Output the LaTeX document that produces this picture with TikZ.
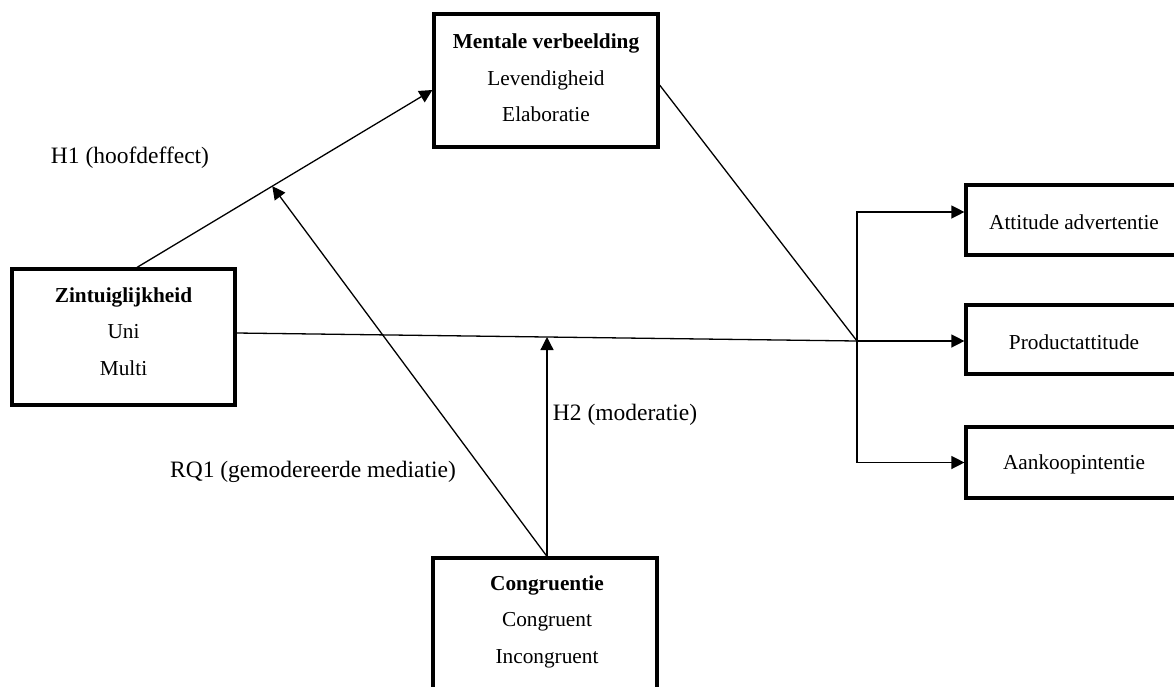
\documentclass[tikz,border=0pt]{standalone}
\usepackage{fontspec}
\setmainfont{Liberation Serif}
\usetikzlibrary{arrows.meta,calc}
\tikzset{
  boxc/.style={draw=black, line width=3.2pt, rectangle, inner sep=0pt},
  boxtxt/.style={align=center, inner sep=0pt, font=\fontsize{21.3}{36.5}\selectfont},
  lbl/.style={inner sep=0pt, font=\fontsize{23.5}{28}\selectfont},
  conn/.style={draw=black, line width=1.3pt},
  arr/.style={conn, -{Triangle[length=13pt,width=13pt]}}
}
\begin{document}
\begin{tikzpicture}[x=1pt,y=-1pt]
\path[use as bounding box, clip] (0,0) rectangle (1174,686);
\fill[white] (0,0) rectangle (1174,686);
% boxes
\node[boxc, minimum width=224pt, minimum height=133pt] (mv) at (546,80.5) {};
\node[boxtxt] (mvt) at (546,78) {\textbf{Mentale verbeelding}\\Levendigheid\\Elaboratie};
\node[boxc, minimum width=223pt, minimum height=136pt] (zi) at (123.5,337) {};
\node[boxtxt] (zit) at (123.5,331.5) {\textbf{Zintuiglijkheid}\\Uni\\Multi};
\node[boxc, minimum width=224pt, minimum height=180pt] (cg) at (545,648) {};
\node[boxtxt] (cgt) at (547,621.5) {\textbf{Congruentie}\\Congruent\\Incongruent};
\node[boxc, minimum width=216pt, minimum height=70pt] (aa) at (1074,220) {};
\node[boxtxt] (aat) at (1074,222) {Attitude advertentie};
\node[boxc, minimum width=216pt, minimum height=69pt] (pa) at (1074,339.5) {};
\node[boxtxt] (pat) at (1074,342) {Productattitude};
\node[boxc, minimum width=216pt, minimum height=71pt] (ak) at (1074,462.5) {};
\node[boxtxt] (akt) at (1074,464) {Aankoopintentie};
% coordinates
\coordinate (h1s) at ([xshift=13.5pt]zi.north);
\coordinate (h1e) at ([yshift=-9.5pt]mv.west);
\coordinate (zs) at ([yshift=4pt]zi.east);
\coordinate (j) at (857,341);
\coordinate (c0) at ([xshift=2pt]cg.north);
% connectors
\draw[arr] (h1s) -- (h1e);
\draw[conn] (zs) -- (j);
\draw[arr] (j) -- (pa.west |- j);
\draw[conn] ([yshift=-4.5pt]mv.east) -- (j);
\draw[arr] (j) |- ([yshift=8pt]aa.west);
\draw[arr] (j) |- (ak.west);
\draw[arr] (c0) -- ($(h1s)!0.458!(h1e)$);
\draw[arr] (c0) -- (c0 |- {$(zs)!0.5!(j)$});
% labels
\node[lbl] (l1) at (130,158) {H1 (hoofdeffect)};
\node[lbl] (l2) at (313,472) {RQ1 (gemodereerde mediatie)};
\node[lbl] (l3) at (625,415) {H2 (moderatie)};
\end{tikzpicture}
\end{document}
